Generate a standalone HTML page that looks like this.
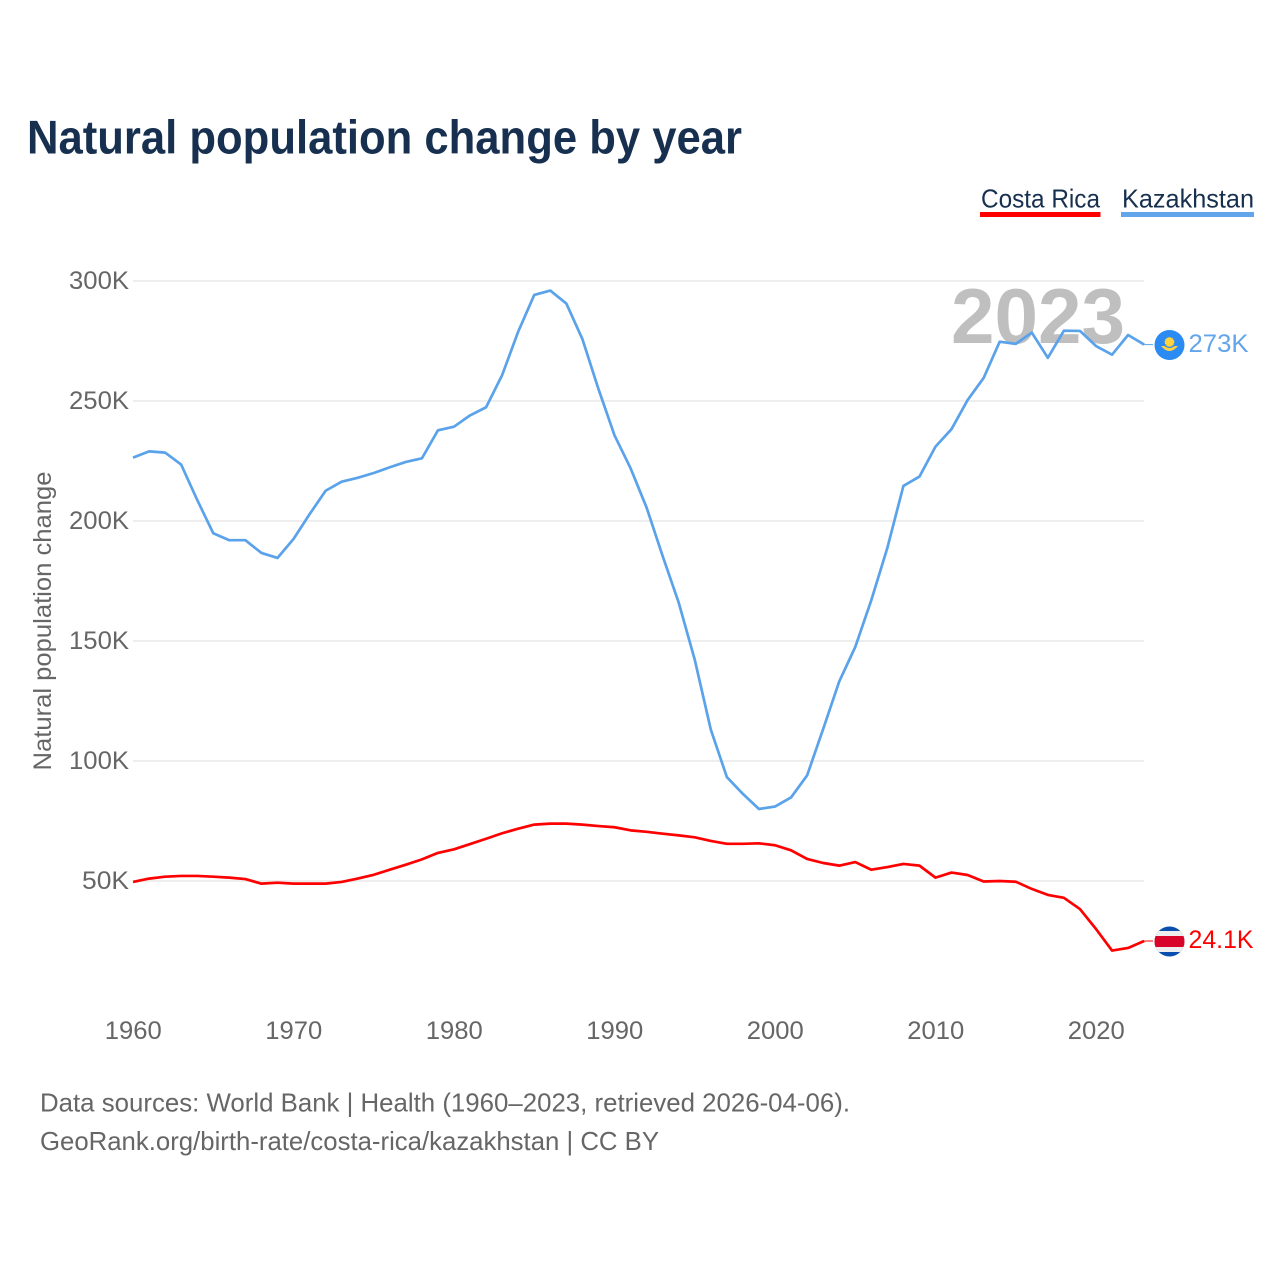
<!DOCTYPE html>
<html lang="en">
<head>
<meta charset="utf-8">
<title>Natural population change by year</title>
<style>
html,body{margin:0;padding:0;background:#fff;}
svg{display:block;font-family:"Liberation Sans",sans-serif;}
</style>
</head>
<body>
<svg id="chart" xmlns="http://www.w3.org/2000/svg" width="1280" height="1280" viewBox="0 0 1280 1280">
  <defs>
    <clipPath id="kz-clip"><circle cx="1169.5" cy="345" r="15"/></clipPath>
    <clipPath id="cr-clip"><circle cx="1169.5" cy="941.5" r="15"/></clipPath>
  </defs>
  <rect width="1280" height="1280" fill="#fff"/>
  <text x="27" y="153.5" font-size="47" font-weight="700" fill="#17304f" textLength="715" lengthAdjust="spacingAndGlyphs">Natural population change by year</text>

  <g>
    <g>
      <text x="981" y="207.5" font-size="26" fill="#17304f" textLength="119" lengthAdjust="spacingAndGlyphs">Costa Rica</text>
      <rect x="980" y="212" width="120.5" height="5" fill="#ff0000"/>
    </g>
    <g>
      <text x="1122" y="207.5" font-size="26" fill="#17304f" textLength="132" lengthAdjust="spacingAndGlyphs">Kazakhstan</text>
      <rect x="1121" y="212" width="133" height="5" fill="#62a5ea"/>
    </g>
  </g>

  <g id="grid"></g>
  <g id="y-ticks"></g>
  <g id="x-ticks"></g>
  <text transform="translate(51 621) rotate(-90)" text-anchor="middle" font-size="25" fill="#666" textLength="299" lengthAdjust="spacingAndGlyphs">Natural population change</text>

  <text x="951" y="343" font-size="78" font-weight="700" fill="#bfbfbf" textLength="174" lengthAdjust="spacingAndGlyphs">2023</text>

  <g id="series"></g>

  <g>
    <g clip-path="url(#kz-clip)">
      <rect x="1154" y="330" width="31" height="31" fill="#2b8bf2"/>
      <circle cx="1169.5" cy="342" r="4.5" fill="#ffd23f" stroke="#ffd23f" stroke-width="1" stroke-dasharray="1 1"/>
      <path d="M1161 346 Q1169.5 356 1178 346 L1174.5 346 Q1169.5 350 1164.5 346 Z" fill="#ffd23f"/>
    </g>
  </g>
  <g>
    <g clip-path="url(#cr-clip)">
      <rect x="1154" y="926" width="31" height="31" fill="#0a4fae"/>
      <rect x="1154" y="931" width="31" height="21" fill="#eeeeee"/>
      <rect x="1154" y="936" width="31" height="11" fill="#d90429"/>
    </g>
  </g>
  <text x="1188.5" y="352" font-size="25" fill="#62a5ea" textLength="60" lengthAdjust="spacingAndGlyphs">273K</text>
  <text x="1188.5" y="948" font-size="25" fill="#ff0000" textLength="65" lengthAdjust="spacingAndGlyphs">24.1K</text>

  <text x="40" y="1111.5" font-size="26" fill="#666" textLength="810" lengthAdjust="spacingAndGlyphs">Data sources: World Bank | Health (1960–2023, retrieved 2026-04-06).</text>
  <text x="40" y="1150" font-size="26" fill="#666" textLength="619" lengthAdjust="spacingAndGlyphs">GeoRank.org/birth-rate/costa-rica/kazakhstan | CC BY</text>
</svg>
<script>
const firstYear = 1960;
const yTickValues = [50, 100, 150, 200, 250, 300];
const yTickLabels = ["50K", "100K", "150K", "200K", "250K", "300K"];
const xTickYears = [1960, 1970, 1980, 1990, 2000, 2010, 2020];
const xTickLabels = ["1960", "1970", "1980", "1990", "2000", "2010", "2020"];
const kazakhstanValues = [
  226.4,229.0,228.5,223.5,208.8,194.9,192.0,192.0,186.7,184.6,
  192.5,202.8,212.6,216.4,218.0,220.0,222.4,224.6,226.1,237.8,
  239.3,244.0,247.4,260.8,278.9,294.2,296.0,290.6,275.8,255.0,
  235.7,222.0,205.6,185.4,166.0,142.2,113.1,93.3,86.3,80.0,
  81.0,84.8,94.0,113.3,133.1,147.5,167.0,188.8,214.6,218.5,
  231.0,238.3,250.4,259.6,274.7,273.8,278.5,268.0,279.3,279.2,
  272.9,269.3,277.5,273.5
];
const costaRicaValues = [
  49.6,51.0,51.8,52.1,52.1,51.8,51.4,50.8,48.9,49.3,
  48.9,48.9,48.9,49.6,51.0,52.6,54.7,56.8,59.0,61.7,
  63.2,65.4,67.6,69.9,71.8,73.5,73.9,73.9,73.5,72.9,
  72.4,71.1,70.5,69.7,69.0,68.2,66.7,65.5,65.5,65.7,
  64.9,62.8,59.2,57.5,56.4,57.9,54.7,55.8,57.1,56.4,
  51.4,53.5,52.5,49.8,50.0,49.7,46.7,44.2,43.0,38.3,
  30.0,21.0,22.1,25.0
];

const SVG_NS = "http://www.w3.org/2000/svg";
function xScale(year) { return 133 + (year - 1960) * 16.05; }
function yScale(value) { return 881 - (value - 50) * 2.4; }
function make(tag, attrs, parent) {
  const el = document.createElementNS(SVG_NS, tag);
  for (const k in attrs) el.setAttribute(k, attrs[k]);
  parent.appendChild(el);
  return el;
}

const gridGroup = document.getElementById("grid");
const yGroup = document.getElementById("y-ticks");
yTickValues.forEach(function (v, i) {
  const line = make("line", { x1: 133, x2: 1144, y1: yScale(v), y2: yScale(v), stroke: "#e9e9e9", "stroke-width": 1.4 }, gridGroup);
  
  
  const t = make("text", { x: 129, y: yScale(v) + 8, "text-anchor": "end", "font-size": 25, fill: "#666" }, yGroup);
  
  
  t.setAttribute('textLength', yTickLabels[i].length === 3 ? 47 : 60);
  t.setAttribute('lengthAdjust', 'spacingAndGlyphs');
  t.textContent = yTickLabels[i];
});

const xGroup = document.getElementById("x-ticks");
xTickYears.forEach(function (y, i) {
  const t = make("text", { x: xScale(y) + 0.3, y: 1039, "text-anchor": "middle", "font-size": 25, fill: "#666" }, xGroup);
  
  
  t.setAttribute('textLength', 57);
  t.setAttribute('lengthAdjust', 'spacingAndGlyphs');
  t.textContent = xTickLabels[i];
});

function pathFor(values) {
  return values.map(function (v, i) {
    return (i ? "L" : "M") + xScale(firstYear + i).toFixed(2) + " " + yScale(v).toFixed(2);
  }).join(" ");
}
const seriesGroup = document.getElementById("series");

const crLine = make("path", { d: pathFor(costaRicaValues), fill: "none", stroke: "#ff0000", "stroke-width": 2.7, "stroke-linejoin": "round" }, seriesGroup);



const kzLine = make("path", { d: pathFor(kazakhstanValues), fill: "none", stroke: "#5aa2ea", "stroke-width": 2.7, "stroke-linejoin": "round" }, seriesGroup);



const lastIndex = kazakhstanValues.length - 1;
const lastX = xScale(firstYear + lastIndex);

const crConn = make("line", { x1: lastX, x2: 1153, y1: yScale(costaRicaValues[lastIndex]), y2: yScale(costaRicaValues[lastIndex]), stroke: "#ff0000", "stroke-width": 1 }, seriesGroup);



const kzConn = make("line", { x1: lastX, x2: 1153, y1: yScale(kazakhstanValues[lastIndex]), y2: yScale(kazakhstanValues[lastIndex]), stroke: "#5aa2ea", "stroke-width": 1 }, seriesGroup);


</script>
</body>
</html>
